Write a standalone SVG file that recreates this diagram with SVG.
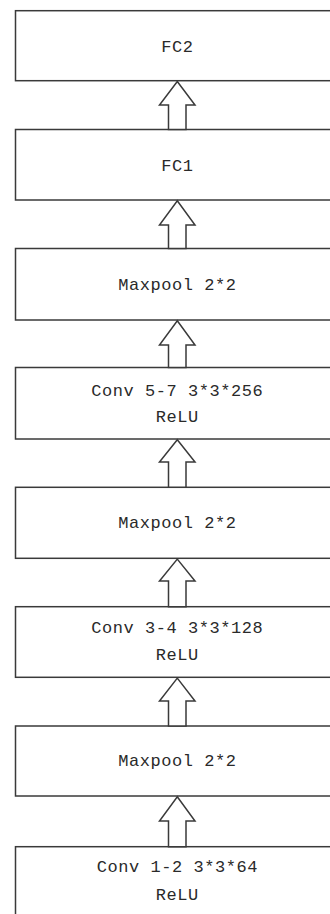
<svg xmlns="http://www.w3.org/2000/svg" width="330" height="914" viewBox="0 0 330 914">
<style>
.box{fill:#fff;stroke:#3a3a3a;stroke-width:1.5}
.arr{fill:#fff;stroke:#3a3a3a;stroke-width:1.5;stroke-linejoin:miter}
.t{font-family:"Liberation Mono","DejaVu Sans Mono",monospace;font-size:17px;fill:#2a2a2a;text-anchor:middle;letter-spacing:0.55px}
</style>
<rect width="330" height="914" fill="#fff"/>
<g id="fc2"><rect class="box" x="15.5" y="10.7" width="330" height="70"/><text class="t" x="177.3" y="51.5">FC2</text></g>
<g id="fc1"><rect class="box" x="15.5" y="129.5" width="330" height="70.5"/><text class="t" x="177.3" y="170.5">FC1</text></g>
<g id="maxpool3"><rect class="box" x="15.5" y="248.5" width="330" height="71.5"/><text class="t" x="177.3" y="289.5">Maxpool 2*2</text></g>
<g id="conv57"><rect class="box" x="15.5" y="367.5" width="330" height="71.5"/><text class="t" x="177.3" y="395.5">Conv 5-7 3*3*256</text><text class="t" x="177.3" y="421.5">ReLU</text></g>
<g id="maxpool2"><rect class="box" x="15.5" y="487.3" width="330" height="71"/><text class="t" x="177.3" y="528.2">Maxpool 2*2</text></g>
<g id="conv34"><rect class="box" x="15.5" y="606.7" width="330" height="70.6"/><text class="t" x="177.3" y="633">Conv 3-4 3*3*128</text><text class="t" x="177.3" y="659.5">ReLU</text></g>
<g id="maxpool1"><rect class="box" x="15.5" y="726" width="330" height="70"/><text class="t" x="177.3" y="766.2">Maxpool 2*2</text></g>
<g id="conv12"><rect class="box" x="15.5" y="846.7" width="330" height="90"/><text class="t" x="177.3" y="872.2">Conv 1-2 3*3*64</text><text class="t" x="177.3" y="899.5">ReLU</text></g>
<g id="connectors">
<path class="arr" d="M177.3 81.5 L195 105 L186 105 L186 129.5 L168.5 129.5 L168.5 105 L159.5 105 Z"/>
<path class="arr" d="M177.3 200.8 L195 225 L186 225 L186 248.5 L168.5 248.5 L168.5 225 L159.5 225 Z"/>
<path class="arr" d="M177.3 320.8 L195 345 L186 345 L186 367.5 L168.5 367.5 L168.5 345 L159.5 345 Z"/>
<path class="arr" d="M177.3 439.8 L195 462 L186 462 L186 487.3 L168.5 487.3 L168.5 462 L159.5 462 Z"/>
<path class="arr" d="M177.3 559.1 L195 581 L186 581 L186 606.7 L168.5 606.7 L168.5 581 L159.5 581 Z"/>
<path class="arr" d="M177.3 678.1 L195 701 L186 701 L186 726 L168.5 726 L168.5 701 L159.5 701 Z"/>
<path class="arr" d="M177.3 796.8 L195 821 L186 821 L186 846.7 L168.5 846.7 L168.5 821 L159.5 821 Z"/>
</g>
</svg>
